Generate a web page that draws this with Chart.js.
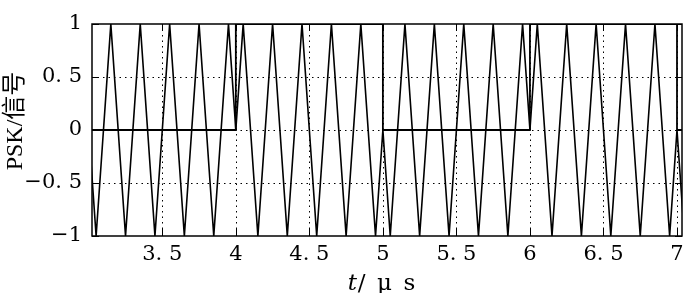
<!DOCTYPE html>
<html><head><meta charset="utf-8">
<script src="https://cdn.jsdelivr.net/npm/chart.js@4"></script>
<style>html,body{margin:0;padding:0;background:#fff;}#wrap{width:700px;height:293px;position:relative;}</style>
</head><body><div id="wrap"><canvas id="c" width="700" height="293"></canvas></div>
<script>
// time axis of the sampled PSK waveform (µs)
const sampleStartUs = 3.0;
const sampleStepUs = 0.05;
// PSK signal: peaks / zero crossings / troughs, phase flips at 4, 5, 6, 7 µs
const pskSignal = [
  0,-1,0,1, 0,-1,0,1, 0,-1,0,1, 0,-1,0,1, 0,-1,0,1,
  0,1,0,-1, 0,1,0,-1, 0,1,0,-1, 0,1,0,-1, 0,1,0,-1,
  0,-1,0,1, 0,-1,0,1, 0,-1,0,1, 0,-1,0,1, 0,-1,0,1,
  0,1,0,-1, 0,1,0,-1, 0,1,0,-1, 0,1,0,-1, 0,1,0,-1,
  0,-1
];
// baseband data bits (level starting at each edge)
const bitEdgesUs = [3, 4, 5, 6, 7, 7.05];
const bitLevels  = [0, 1, 0, 1, 0, 0];
// axes
const xTickValues = [3.5, 4, 4.5, 5, 5.5, 6, 6.5, 7];
const xTickLabels = ['3. 5', '4', '4. 5', '5', '5. 5', '6', '6. 5', '7'];
const yTickValues = [-1, -0.5, 0, 0.5, 1];
const yTickLabels = ['\u22121', '\u22120. 5', '0', '0. 5', '1'];
const xRange = [3.022, 7.034];
const yRange = [-1, 1];
const xTitleItalic = 't';
const xTitleRest = '/\u2002\u03bc\u2002s';
const yTitle = 'PSK/信号';

const TICKFONT = "'DejaVu Serif',serif";
const SERIF = "'Liberation Serif','Times New Roman','Noto Sans CJK SC',serif";

const frameGrid = {
  id: 'frameGrid',
  beforeDatasetsDraw(chart) {
    const {ctx, chartArea: a, scales: {x, y}} = chart;
    ctx.save();
    ctx.strokeStyle = '#000';
    ctx.lineWidth = 1;
    ctx.setLineDash([1.5, 4]);
    ctx.beginPath();
    xTickValues.forEach(v => {
      const px = Math.round(x.getPixelForValue(v)) + 0.5;
      if (px > a.left + 2 && px < a.right - 3) { ctx.moveTo(px, a.top); ctx.lineTo(px, a.bottom); }
    });
    yTickValues.forEach(v => {
      const py = Math.round(y.getPixelForValue(v)) + 0.5;
      if (py > a.top + 2 && py < a.bottom - 2) { ctx.moveTo(a.left, py); ctx.lineTo(a.right, py); }
    });
    ctx.stroke();
    ctx.restore();
  },
  afterDatasetsDraw(chart) {
    const {ctx, chartArea: a, scales: {x, y}} = chart;
    ctx.save();
    ctx.strokeStyle = '#000';
    ctx.setLineDash([]);
    ctx.lineWidth = 1.5;
    ctx.strokeRect(a.left, a.top, a.right - a.left, a.bottom - a.top);
    ctx.lineWidth = 1;
    ctx.beginPath();
    const tl = 7;
    xTickValues.forEach(v => {
      const px = Math.round(x.getPixelForValue(v)) + 0.5;
      ctx.moveTo(px, a.bottom); ctx.lineTo(px, a.bottom - tl);
      ctx.moveTo(px, a.top); ctx.lineTo(px, a.top + tl);
    });
    yTickValues.forEach(v => {
      const py = Math.round(y.getPixelForValue(v)) + 0.5;
      ctx.moveTo(a.left, py); ctx.lineTo(a.left + tl, py);
      ctx.moveTo(a.right, py); ctx.lineTo(a.right - tl, py);
    });
    ctx.stroke();
    // axis titles
    ctx.fillStyle = '#000';
    ctx.textBaseline = 'alphabetic';
    ctx.textAlign = 'left';
    ctx.font = 'italic 23px ' + TICKFONT;
    const wT = ctx.measureText(xTitleItalic).width;
    ctx.font = '23px ' + TICKFONT;
    const wR = ctx.measureText(xTitleRest).width;
    const cx = 381;
    let sx = cx - (wT + wR) / 2;
    ctx.font = 'italic 23px ' + TICKFONT;
    ctx.fillText(xTitleItalic, sx, 290);
    ctx.font = '23px ' + TICKFONT;
    ctx.fillText(xTitleRest, sx + wT + 1, 290);
    ctx.translate(16, 121);
    ctx.rotate(-Math.PI / 2);
    ctx.textAlign = 'center';
    ctx.textBaseline = 'middle';
    ctx.font = '24px ' + SERIF;
    ctx.fillText(yTitle, 0, 0);
    ctx.restore();
  }
};

new Chart(document.getElementById('c').getContext('2d'), {
  type: 'line',
  data: {
    datasets: [
      {
        label: 'PSK',
        data: pskSignal.map((v, i) => ({x: sampleStartUs + i * sampleStepUs, y: v})),
        borderColor: '#000',
        borderWidth: 1.6,
        pointRadius: 0,
        fill: false,
        tension: 0
      },
      {
        label: 'bits',
        data: bitEdgesUs.map((t, i) => ({x: t, y: bitLevels[i]})),
        borderColor: '#000',
        borderWidth: 1.8,
        pointRadius: 0,
        fill: false,
        stepped: 'before'
      }
    ]
  },
  options: {
    responsive: false,
    animation: false,
    devicePixelRatio: 1,
    layout: {padding: {top: 24, right: 18, left: 0, bottom: 0}},
    plugins: {legend: {display: false}, tooltip: {enabled: false}},
    scales: {
      x: {
        type: 'linear',
        min: xRange[0], max: xRange[1],
        afterBuildTicks: s => { s.ticks = xTickValues.map(v => ({value: v})); },
        afterFit: s => { s.height = 57; },
        grid: {display: false, drawTicks: false},
        border: {display: false},
        ticks: {
          color: '#000', padding: 6, maxRotation: 0, autoSkip: false,
          font: {family: TICKFONT, size: 21},
          callback: (v, i) => xTickLabels[i]
        }
      },
      y: {
        type: 'linear',
        min: yRange[0], max: yRange[1],
        afterBuildTicks: s => { s.ticks = yTickValues.map(v => ({value: v})); },
        afterFit: s => { s.width = 92; },
        grid: {display: false, drawTicks: false},
        border: {display: false},
        ticks: {
          color: '#000', padding: 10, autoSkip: false,
          font: {family: TICKFONT, size: 21},
          callback: (v, i) => yTickLabels[i]
        }
      }
    }
  },
  plugins: [frameGrid]
});
</script>
</body></html>
